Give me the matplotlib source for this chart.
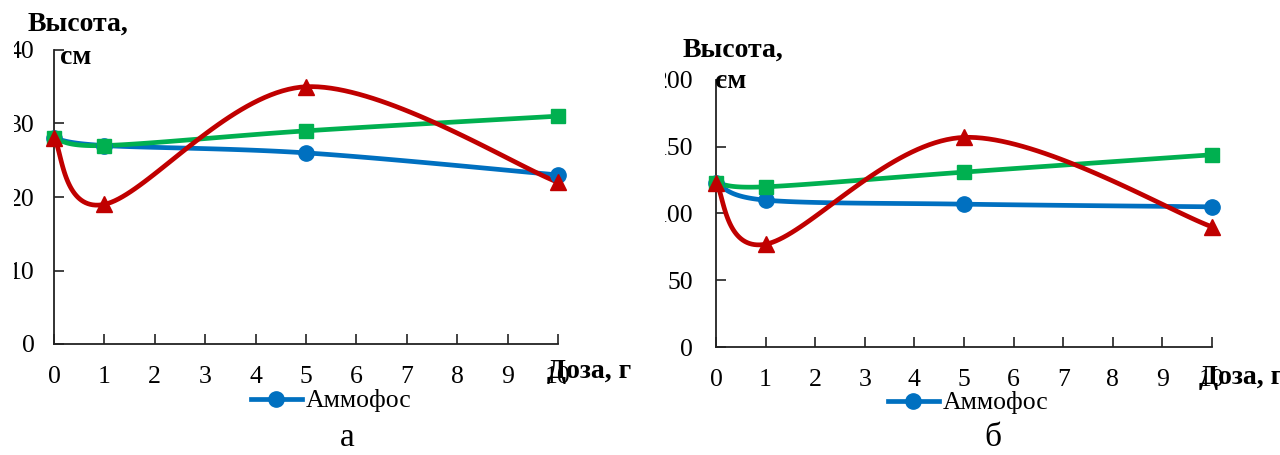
import numpy as np
import matplotlib
matplotlib.use("Agg")
import matplotlib.pyplot as plt
from matplotlib.lines import Line2D
from matplotlib.transforms import Bbox, TransformedBbox

plt.rcParams['font.family'] = ['Liberation Serif', 'DejaVu Serif']

# ---- data ----
doses = [0, 1, 5, 10]
x_ticks = list(range(0, 11))

# panel а
a_ammofos = [28, 27, 26, 23]
a_green = [28, 27, 29, 31]
a_red = [28, 19, 35, 22]
a_yticks = [0, 10, 20, 30, 40]

# panel б
b_ammofos = [123, 110, 107, 105]
b_green = [123, 120, 131, 144]
b_red = [123, 77, 157, 90]
b_yticks = [0, 50, 100, 150, 200]

legend_label = "Аммофос"
ylabel_1 = "Высота,"
ylabel_2 = "см"
xlabel = "Доза, г"

BLUE = "#0070C0"
GREEN = "#00B050"
RED = "#C00000"


def smooth(xs, ys, n=40):
    """Excel-like smoothed line (Catmull-Rom Bezier)."""
    P = np.column_stack([xs, ys]).astype(float)
    m = len(P)
    out = []
    t = np.linspace(0, 1, n)
    for i in range(m - 1):
        p0 = P[i - 1] if i > 0 else P[i]
        p1 = P[i]
        p2 = P[i + 1]
        p3 = P[i + 2] if i + 2 < m else P[i + 1]
        c1 = p1 + (p2 - p0) / 6.0
        c2 = p2 - (p3 - p1) / 6.0
        seg = ((1 - t) ** 3)[:, None] * p1 + (3 * (1 - t) ** 2 * t)[:, None] * c1 \
            + (3 * (1 - t) * t ** 2)[:, None] * c2 + (t ** 3)[:, None] * p2
        out.append(seg if i == 0 else seg[1:])
    S = np.vstack(out)
    return S[:, 0], S[:, 1]


W, H = 1280, 455
fig = plt.figure(figsize=(W / 100, H / 100), dpi=100)


def px_axes(x0, x1, y_top, y_bot):
    return fig.add_axes([x0 / W, 1 - y_bot / H, (x1 - x0) / W, (y_bot - y_top) / H])


def draw_panel(ax, series, yticks, ymax, clip_left_px, lab_pos, xlab_pos,
               leg_pos, panel_txt, panel_pos, ypad, xpad):
    ax.set_xlim(0, 10)
    ax.set_ylim(0, ymax)
    for ys, color, marker, ms in series:
        sx, sy = smooth(doses, ys)
        ax.plot(sx, sy, color=color, lw=3.4, solid_capstyle='round', clip_on=False, zorder=3)
        ax.plot(doses, ys, linestyle='none', marker=marker, ms=ms, color=color,
                clip_on=False, zorder=4)
    ax.set_xticks(x_ticks)
    ax.set_yticks(yticks)
    ax.set_yticklabels([str(v) for v in yticks])
    for s in ['top', 'right']:
        ax.spines[s].set_visible(False)
    for s in ['left', 'bottom']:
        ax.spines[s].set_color('#222222')
        ax.spines[s].set_linewidth(1.3)
    ax.tick_params(axis='both', direction='in', length=7, width=1.2, color='#222222',
                   labelsize=18.5)
    ax.tick_params(axis='y', pad=ypad)
    ax.tick_params(axis='x', pad=xpad)
    clip = TransformedBbox(Bbox([[clip_left_px / W, 0], [1, 1]]), fig.transFigure)
    for lab in ax.get_yticklabels():
        lab.set_clip_box(clip)
        lab.set_clip_on(True)
    fig.text(lab_pos[0] / W, 1 - lab_pos[1] / H, ylabel_1, fontsize=20, fontweight='bold',
             ha='left', va='center')
    fig.text(lab_pos[2] / W, 1 - lab_pos[3] / H, ylabel_2, fontsize=20, fontweight='bold',
             ha='left', va='center')
    fig.text(xlab_pos[0] / W, 1 - xlab_pos[1] / H, xlabel, fontsize=20, fontweight='bold',
             ha='left', va='center')
    h = Line2D([], [], color=BLUE, lw=3.4, marker='o', ms=11)
    ax.legend(handles=[h], labels=[legend_label], loc='center',
              bbox_to_anchor=(leg_pos[0] / W, 1 - leg_pos[1] / H),
              bbox_transform=fig.transFigure, frameon=False, fontsize=18.5,
              handlelength=2.0, handletextpad=0.15, borderpad=0)
    fig.text(panel_pos[0] / W, 1 - panel_pos[1] / H, panel_txt, fontsize=24,
             ha='center', va='center')


ax1 = px_axes(54, 558, 50, 344)
draw_panel(ax1,
           [(a_ammofos, BLUE, 'o', 11), (a_green, GREEN, 's', 10.5), (a_red, RED, '^', 11)],
           a_yticks, 40, 14, (28, 24, 60, 57), (547, 372), (331, 401), "а", (347, 438),
           ypad=14, xpad=15.5)

ax2 = px_axes(716, 1212, 80, 347)
draw_panel(ax2,
           [(b_ammofos, BLUE, 'o', 11), (b_green, GREEN, 's', 10.5), (b_red, RED, '^', 11)],
           b_yticks, 200, 665, (683, 50, 715, 81), (1199, 377), (968, 403), "б", (993, 438),
           ypad=16.5, xpad=15.5)

fig.savefig("out.png", dpi=100)
